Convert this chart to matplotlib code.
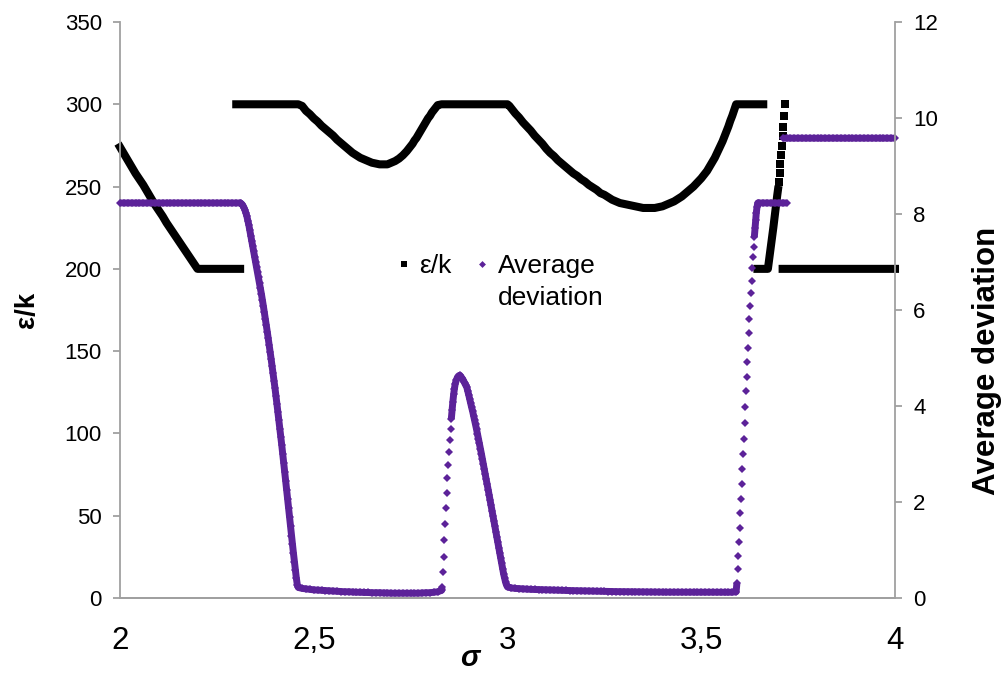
import numpy as np
import matplotlib
matplotlib.use("Agg")
import matplotlib.pyplot as plt
from matplotlib.lines import Line2D
from matplotlib.ticker import FuncFormatter

## eps/k values (one row per stretch of the curve)
eps_sigma = [
    2.00, 2.01, 2.02, 2.03, 2.04, 2.05, 2.06, 2.07, 2.08, 2.09, 2.10, 2.11, 2.12, 2.13, 2.14, 2.15, 2.16, 2.17, 2.18, 2.19, 2.20,
    2.21, 2.22, 2.23, 2.24, 2.25, 2.26, 2.27, 2.28, 2.29, 2.30, 2.31,
    2.30, 2.31, 2.32, 2.33, 2.34, 2.35, 2.36, 2.37, 2.38, 2.39, 2.40, 2.41, 2.42, 2.43, 2.44, 2.45, 2.46,
    2.47, 2.48, 2.49, 2.50, 2.51, 2.52, 2.53, 2.54, 2.55, 2.56, 2.57, 2.58, 2.59, 2.60, 2.61, 2.62, 2.63, 2.64, 2.65, 2.66, 2.67, 2.68, 2.69,
    2.70, 2.71, 2.72, 2.73, 2.74, 2.75, 2.755, 2.76, 2.765, 2.77, 2.775, 2.78, 2.785, 2.79, 2.795, 2.80, 2.805, 2.81, 2.815, 2.82,
    2.83, 2.84, 2.85, 2.86, 2.87, 2.88, 2.89, 2.90, 2.91, 2.92, 2.93, 2.94, 2.95, 2.96, 2.97, 2.98, 2.99, 3.00,
    3.005, 3.01, 3.02, 3.03, 3.04, 3.05, 3.06, 3.07, 3.08, 3.09, 3.10,
    3.11, 3.12, 3.13, 3.14, 3.15, 3.16, 3.17, 3.18, 3.19, 3.20,
    3.21, 3.22, 3.23, 3.24, 3.25, 3.26, 3.27, 3.28, 3.29, 3.30,
    3.31, 3.32, 3.33, 3.34, 3.35, 3.36, 3.37, 3.38, 3.39, 3.40,
    3.41, 3.42, 3.43, 3.44, 3.45, 3.46, 3.47, 3.48, 3.49, 3.50,
    3.505, 3.51, 3.515, 3.52, 3.525, 3.53, 3.535, 3.54, 3.545, 3.55, 3.555, 3.56, 3.565, 3.57, 3.575, 3.58, 3.585,
    3.59, 3.60, 3.61, 3.62, 3.63, 3.64, 3.65, 3.66,
    3.645, 3.65, 3.655, 3.66, 3.665, 3.67,
    3.672, 3.674, 3.676, 3.678, 3.680, 3.682, 3.684, 3.686, 3.688, 3.690, 3.692, 3.694, 3.696,
    3.698, 3.700, 3.702, 3.704, 3.706, 3.708, 3.710, 3.712, 3.714, 3.716,
    3.71, 3.72, 3.73, 3.74, 3.75, 3.76, 3.77, 3.78, 3.79, 3.80, 3.81, 3.82, 3.83, 3.84, 3.85,
    3.86, 3.87, 3.88, 3.89, 3.90, 3.91, 3.92, 3.93, 3.94, 3.95, 3.96, 3.97, 3.98, 3.99, 4.00,
]
eps_k = [
    274, 270, 266, 262, 258, 254.5, 251, 247, 243, 239, 235.5, 232, 228, 224.5, 221, 217.5, 214, 210.5, 207, 203.5, 200,
    200, 200, 200, 200, 200, 200, 200, 200, 200, 200, 200,
    300, 300, 300, 300, 300, 300, 300, 300, 300, 300, 300, 300, 300, 300, 300, 300, 300,
    299, 296, 294, 291.5, 289.5, 287, 285, 283, 281, 278.5, 276.5, 274.5, 272.5, 270.5, 269, 267.5, 266.5, 265.5, 264.5, 264, 263.5, 263.5, 263.5,
    264.5, 265.5, 267, 269, 271.5, 274.5, 276, 278, 279.5, 281.5, 283.5, 285.5, 287.5, 289.5, 291.5, 293, 295, 296.5, 298, 299.5,
    300, 300, 300, 300, 300, 300, 300, 300, 300, 300, 300, 300, 300, 300, 300, 300, 300, 300,
    299, 297.5, 294.5, 292, 289, 286.5, 284, 281, 278.5, 276, 273,
    270.5, 268.5, 266, 264, 262, 260, 258, 256.5, 254.5, 253,
    251, 249.5, 248, 246, 245, 243.5, 242, 241, 240, 239.5,
    239, 238.5, 238, 237.5, 237, 237, 237, 237, 237.5, 238,
    239, 240, 241, 242.5, 244, 246, 248, 250, 252.5, 255,
    256.5, 258, 259.5, 261.5, 263.5, 265.5, 267.5, 270, 272.5, 275, 277.5, 280.5, 283.5, 286.5, 290, 293, 296.5,
    300, 300, 300, 300, 300, 300, 300, 300,
    200, 200, 200, 200, 200, 200,
    200, 203.5, 207, 210.5, 214, 217.5, 221, 225, 229, 232.5, 236.5, 240.5, 244.5,
    248, 253, 258, 263.5, 269, 274.5, 280.5, 286.5, 293, 300,
    200, 200, 200, 200, 200, 200, 200, 200, 200, 200, 200, 200, 200, 200, 200,
    200, 200, 200, 200, 200, 200, 200, 200, 200, 200, 200, 200, 200, 200, 200,
]

## average deviation (right axis)
dev_sigma = [
    2.00, 2.01, 2.02, 2.03, 2.04, 2.05, 2.06, 2.07, 2.08, 2.09, 2.10, 2.11, 2.12, 2.13, 2.14, 2.15,
    2.16, 2.17, 2.18, 2.19, 2.20, 2.21, 2.22, 2.23, 2.24, 2.25, 2.26, 2.27, 2.28, 2.29, 2.30,
    2.3100, 2.3125, 2.3150, 2.3175, 2.3200, 2.3225, 2.3250, 2.3275, 2.3300, 2.3325,
    2.3350, 2.3375, 2.3400, 2.3425, 2.3450, 2.3475, 2.3500, 2.3525, 2.3550, 2.3575,
    2.3600, 2.3625, 2.3650, 2.3675, 2.3700, 2.3725, 2.3750, 2.3775, 2.3800, 2.3825,
    2.3850, 2.3875, 2.3900, 2.3925, 2.3950, 2.3975, 2.4000, 2.4025, 2.4050, 2.4075,
    2.4100, 2.4125, 2.4150, 2.4175, 2.4200, 2.4225, 2.4250, 2.4275, 2.4300, 2.4325,
    2.4350, 2.4375, 2.4400, 2.4425, 2.4450, 2.4475, 2.4500, 2.4525, 2.4550, 2.4575,
    2.4600,
    2.47, 2.48, 2.49, 2.50, 2.51, 2.52, 2.53, 2.54, 2.55, 2.56,
    2.57, 2.58, 2.59, 2.60, 2.61, 2.62, 2.63, 2.64, 2.65, 2.66,
    2.67, 2.68, 2.69, 2.70, 2.71, 2.72, 2.73, 2.74, 2.75, 2.76,
    2.77, 2.78, 2.79, 2.80, 2.81, 2.82, 2.83,
    2.831, 2.833, 2.835, 2.837, 2.839, 2.841, 2.843, 2.845, 2.847, 2.849, 2.851,
    2.853, 2.855, 2.857, 2.859, 2.861, 2.863, 2.865, 2.868, 2.871, 2.874, 2.877,
    2.8800, 2.8825, 2.8850, 2.8875, 2.8900, 2.8925, 2.8950, 2.8975, 2.9000, 2.9025,
    2.9050, 2.9075, 2.9100, 2.9125, 2.9150, 2.9175, 2.9200, 2.9225, 2.9250, 2.9275,
    2.9300, 2.9325, 2.9350, 2.9375, 2.9400, 2.9425, 2.9450, 2.9475, 2.9500, 2.9525,
    2.9550, 2.9575, 2.9600, 2.9625, 2.9650, 2.9675, 2.9700, 2.9725, 2.9750, 2.9775,
    2.9800, 2.9825, 2.9850, 2.9875, 2.9900, 2.9925, 2.9950, 2.9975, 3.0000,
    3.01, 3.02, 3.03, 3.04, 3.05, 3.06, 3.07, 3.08, 3.09, 3.10,
    3.11, 3.12, 3.13, 3.14, 3.15, 3.16, 3.17, 3.18, 3.19, 3.20,
    3.21, 3.22, 3.23, 3.24, 3.25, 3.26, 3.27, 3.28, 3.29, 3.30,
    3.31, 3.32, 3.33, 3.34, 3.35, 3.36, 3.37, 3.38, 3.39, 3.40,
    3.41, 3.42, 3.43, 3.44, 3.45, 3.46, 3.47, 3.48, 3.49, 3.50,
    3.51, 3.52, 3.53, 3.54, 3.55, 3.56, 3.57, 3.58, 3.59,
    3.592, 3.594, 3.596, 3.597, 3.599, 3.601, 3.603, 3.605, 3.606, 3.608, 3.610,
    3.612, 3.614, 3.615, 3.617, 3.619, 3.621, 3.623, 3.624, 3.626, 3.628,
    3.630, 3.632, 3.633, 3.635, 3.637, 3.639, 3.641, 3.642, 3.644, 3.646,
    3.65, 3.66, 3.67, 3.68, 3.69, 3.70, 3.71, 3.72,
    3.71, 3.72, 3.73, 3.74, 3.75, 3.76, 3.77, 3.78, 3.79, 3.80, 3.81, 3.82, 3.83, 3.84, 3.85,
    3.86, 3.87, 3.88, 3.89, 3.90, 3.91, 3.92, 3.93, 3.94, 3.95, 3.96, 3.97, 3.98, 3.99, 4.00,
]
avg_dev = [
    8.23, 8.23, 8.23, 8.23, 8.23, 8.23, 8.23, 8.23, 8.23, 8.23, 8.23, 8.23, 8.23, 8.23, 8.23, 8.23,
    8.23, 8.23, 8.23, 8.23, 8.23, 8.23, 8.23, 8.23, 8.23, 8.23, 8.23, 8.23, 8.23, 8.23, 8.23,
    8.23, 8.22, 8.20, 8.17, 8.13, 8.08, 8.02, 7.95, 7.86, 7.77,
    7.66, 7.55, 7.44, 7.33, 7.22, 7.11, 7.00, 6.90, 6.79, 6.68,
    6.56, 6.45, 6.33, 6.21, 6.08, 5.95, 5.82, 5.69, 5.55, 5.41,
    5.27, 5.13, 4.98, 4.83, 4.68, 4.53, 4.37, 4.21, 4.04, 3.87,
    3.70, 3.53, 3.35, 3.18, 3.00, 2.82, 2.63, 2.44, 2.25, 2.06,
    1.87, 1.68, 1.49, 1.30, 1.12, 0.94, 0.76, 0.59, 0.42, 0.28,
    0.22,
    0.20, 0.19, 0.18, 0.17, 0.165, 0.16, 0.155, 0.15, 0.145, 0.14,
    0.135, 0.13, 0.13, 0.125, 0.12, 0.12, 0.115, 0.115, 0.11, 0.11,
    0.11, 0.105, 0.105, 0.10, 0.10, 0.10, 0.10, 0.10, 0.10, 0.10,
    0.10, 0.105, 0.11, 0.11, 0.12, 0.13, 0.16,
    0.22, 0.54, 0.86, 1.20, 1.55, 1.88, 2.19, 2.49, 2.77, 3.04, 3.29,
    3.52, 3.73, 3.92, 4.09, 4.24, 4.36, 4.46, 4.54, 4.60, 4.63, 4.64,
    4.61, 4.58, 4.55, 4.51, 4.47, 4.43, 4.39, 4.31, 4.23, 4.14,
    4.06, 3.97, 3.89, 3.80, 3.71, 3.62, 3.52, 3.42, 3.32, 3.22,
    3.11, 3.01, 2.90, 2.80, 2.69, 2.58, 2.47, 2.37, 2.26, 2.15,
    2.04, 1.93, 1.82, 1.71, 1.60, 1.49, 1.38, 1.27, 1.16, 1.05,
    0.94, 0.83, 0.72, 0.61, 0.50, 0.41, 0.33, 0.27, 0.23,
    0.21, 0.20, 0.195, 0.19, 0.185, 0.18, 0.178, 0.175, 0.172, 0.17,
    0.168, 0.165, 0.163, 0.16, 0.158, 0.155, 0.153, 0.15, 0.148, 0.146,
    0.144, 0.142, 0.14, 0.138, 0.136, 0.135, 0.134, 0.133, 0.132, 0.131,
    0.13, 0.13, 0.129, 0.128, 0.127, 0.126, 0.125, 0.125, 0.124, 0.123,
    0.122, 0.122, 0.121, 0.12, 0.12, 0.12, 0.12, 0.12, 0.12, 0.12,
    0.12, 0.12, 0.12, 0.12, 0.12, 0.12, 0.12, 0.12, 0.13,
    0.31, 0.60, 0.875, 1.17, 1.46, 1.77, 2.06, 2.375, 2.69, 3.00, 3.31,
    3.65, 3.98, 4.31, 4.60, 4.92, 5.21, 5.52, 5.81, 6.08, 6.35,
    6.60, 6.875, 7.10, 7.31, 7.52, 7.71, 7.875, 8.02, 8.15, 8.23,
    8.23, 8.23, 8.23, 8.23, 8.23, 8.23, 8.23, 8.23,
    9.58, 9.58, 9.58, 9.58, 9.58, 9.58, 9.58, 9.58, 9.58, 9.58, 9.58, 9.58, 9.58, 9.58, 9.58,
    9.58, 9.58, 9.58, 9.58, 9.58, 9.58, 9.58, 9.58, 9.58, 9.58, 9.58, 9.58, 9.58, 9.58, 9.58,
]

x_ticks = [2, 2.5, 3, 3.5, 4]
eps_ticks = [0, 50, 100, 150, 200, 250, 300, 350]
dev_ticks = [0, 2, 4, 6, 8, 10, 12]

purple = '#5c2299'
axis_grey = '#a0a0a0'

plt.rcParams['font.family'] = ['Liberation Sans', 'DejaVu Sans']

fig = plt.figure(figsize=(10.04, 6.73), dpi=100)
ax = fig.add_axes([120 / 1004, 1 - 598 / 673, 775 / 1004, 576 / 673])
ax2 = ax.twinx()

ax.set_xlim(2, 4)
ax.set_ylim(0, 350)
ax2.set_ylim(0, 12)


def dense_runs(a, xs, ys, gap_px):
    # dense markers merge into a band: return that band as a broken line,
    # plus a mask of the points that stand apart from both neighbours
    xs = np.asarray(xs, float)
    ys = np.asarray(ys, float)
    pts = a.transData.transform(np.column_stack([xs, ys]))
    far = np.hypot(*np.diff(pts, axis=0).T) > gap_px
    lx, ly = [xs[0]], [ys[0]]
    for i in range(1, len(xs)):
        if far[i - 1]:
            lx.append(np.nan)
            ly.append(np.nan)
        lx.append(xs[i])
        ly.append(ys[i])
    alone = np.r_[True, far] & np.r_[far, True]
    return lx, ly, alone


# eps/k on the left axis, black squares
lx, ly, alone = dense_runs(ax, eps_sigma, eps_k, 8.0)
ax.plot(lx, ly, color='black', lw=5.8, solid_capstyle='projecting', solid_joinstyle='round', clip_on=False)
ax.plot(np.asarray(eps_sigma)[alone], np.asarray(eps_k)[alone], ls='none', marker='s', ms=5.2,
        mew=0, color='black', clip_on=False)

# average deviation on the right axis, purple diamonds
lx, ly, alone = dense_runs(ax2, dev_sigma, avg_dev, 10)
ax2.plot(lx, ly, color=purple, lw=5.0, solid_capstyle='butt', solid_joinstyle='round', clip_on=False)
ax2.plot(dev_sigma, avg_dev, ls='none', marker='D', ms=3.9, mew=0, color=purple, clip_on=False)

ax.set_xticks(x_ticks)
ax.xaxis.set_major_formatter(FuncFormatter(lambda v, p: f'{v:g}'.replace('.', ',')))
ax.set_yticks(eps_ticks)
ax2.set_yticks(dev_ticks)

for a in (ax, ax2):
    for s in a.spines.values():
        s.set_color(axis_grey)
        s.set_linewidth(1.3)
    a.spines['top'].set_visible(False)
ax.spines['right'].set_visible(False)
ax2.spines['left'].set_visible(False)

ax.tick_params(axis='x', length=0, labelsize=22.5, pad=20)
ax.tick_params(axis='y', length=5, width=1.3, color=axis_grey, labelsize=16, pad=8)
ax2.tick_params(axis='y', length=5, width=1.3, color=axis_grey, labelsize=16, pad=8)

# axis titles placed like the original
fig.text(27 / 1004, 1 - 310 / 673, 'ε/k', rotation=90, ha='center', va='center',
         fontsize=20, fontweight='bold')
fig.text(987 / 1004, 1 - 361 / 673, 'Average deviation', rotation=90, ha='center', va='center',
         fontsize=22.5, fontweight='bold')
fig.text(470 / 1004, 1 - 658 / 673, 'σ', ha='center', va='center',
         fontsize=21, fontweight='bold', style='italic')

# legend: both markers sit on the first text line, "deviation" wraps below
handles = [Line2D([], [], ls='none', marker='s', ms=5, mew=0, color='black'),
           Line2D([], [], ls='none', marker='D', ms=3.5, mew=0, color=purple)]
leg = ax2.legend(handles, ['ε/k', 'Average'], ncol=2, loc='center left',
                 bbox_to_anchor=(397 / 1004, 1 - 266 / 673), bbox_transform=fig.transFigure,
                 frameon=False, fontsize=19, handlelength=0.5, handletextpad=0.35,
                 columnspacing=0.9, borderpad=0, borderaxespad=0)
fig.canvas.draw()
bb = leg.get_texts()[1].get_window_extent().transformed(fig.transFigure.inverted())
fig.text(bb.x0, bb.y0 - 0.047, 'deviation', fontsize=19, ha='left', va='bottom')

fig.savefig('out.png', dpi=100)
